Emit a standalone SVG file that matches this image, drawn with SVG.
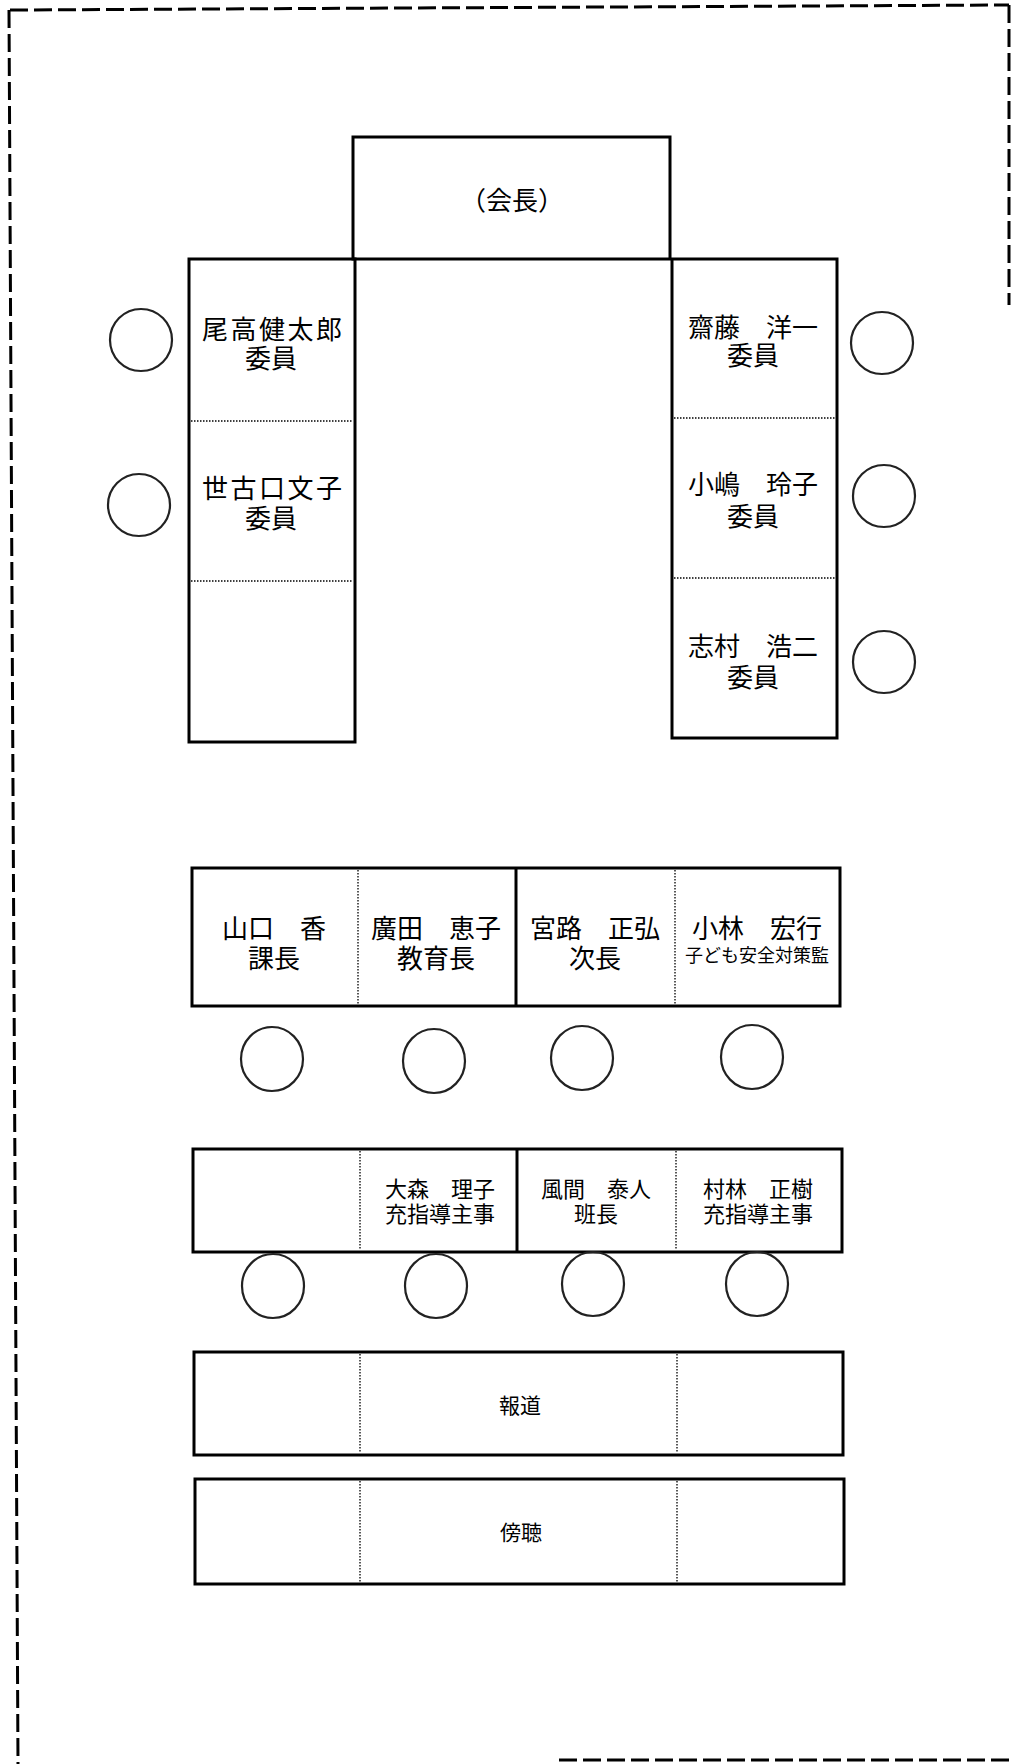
<svg xmlns="http://www.w3.org/2000/svg" width="1011" height="1764" viewBox="0 0 1011 1764">
<style>
.box{fill:none;stroke:#000;stroke-width:3;stroke-linejoin:miter}
.div{stroke:#000;stroke-width:1.3;stroke-dasharray:1.5 1.5;fill:none}
.seat{fill:none;stroke:#222;stroke-width:2.2}
.border{fill:none;stroke:#000;stroke-width:3;stroke-dasharray:18 6}
text{font-family:"Noto Sans CJK JP","Noto Sans CJK SC",sans-serif;fill:#000;text-anchor:middle;dominant-baseline:central}
.n{font-size:26px}
.m{font-size:22px}
.s{font-size:18px}
.l{font-size:21px}
</style>
<rect width="1011" height="1764" fill="#fff"/>
<g id="border">
<line class="border" x1="10" y1="10" x2="1009" y2="5"/>
<line class="border" x1="1009" y1="5" x2="1009" y2="305"/>
<line class="border" x1="9" y1="10" x2="18" y2="1764"/>
<line class="border" x1="559" y1="1760" x2="1011" y2="1760"/>
</g>
<g id="chair">
<rect class="box" x="353" y="137" width="317" height="122"/>
<text class="n" x="512" y="198">（会長）</text>
</g>
<g id="left-wing">
<rect class="box" x="189" y="259" width="166" height="483"/>
<line class="div" x1="191" y1="421" x2="353" y2="421"/>
<line class="div" x1="191" y1="581" x2="353" y2="581"/>
<text class="n"><tspan x="272" y="327" textLength="140" lengthAdjust="spacing">尾高健太郎</tspan><tspan x="271" y="356">委員</tspan></text>
<text class="n"><tspan x="272" y="486" textLength="140" lengthAdjust="spacing">世古口文子</tspan><tspan x="271" y="516">委員</tspan></text>
</g>
<g id="right-wing">
<rect class="box" x="672" y="259" width="165" height="479"/>
<line class="div" x1="674" y1="418" x2="835" y2="418"/>
<line class="div" x1="674" y1="578" x2="835" y2="578"/>
<text class="n"><tspan x="753" y="325">齋藤　洋一</tspan><tspan x="753" y="353">委員</tspan></text>
<text class="n"><tspan x="753" y="482">小嶋　玲子</tspan><tspan x="753" y="514">委員</tspan></text>
<text class="n"><tspan x="753" y="644">志村　浩二</tspan><tspan x="753" y="675">委員</tspan></text>
</g>
<g id="row1">
<rect class="box" x="192" y="868" width="648" height="138"/>
<line class="div" x1="358" y1="870" x2="358" y2="1004"/>
<line class="box" x1="516" y1="868" x2="516" y2="1006"/>
<line class="div" x1="675" y1="870" x2="675" y2="1004"/>
<text class="n"><tspan x="274" y="926">山口　香</tspan><tspan x="274" y="956">課長</tspan></text>
<text class="n"><tspan x="436" y="926">廣田　恵子</tspan><tspan x="436" y="956">教育長</tspan></text>
<text class="n"><tspan x="595" y="926">宮路　正弘</tspan><tspan x="595" y="956">次長</tspan></text>
<text class="n"><tspan x="757" y="926">小林　宏行</tspan><tspan class="s" x="757" y="954">子ども安全対策監</tspan></text>
</g>
<g id="row2">
<rect class="box" x="193" y="1149" width="649" height="103"/>
<line class="div" x1="360" y1="1151" x2="360" y2="1250"/>
<line class="box" x1="517" y1="1149" x2="517" y2="1252"/>
<line class="div" x1="676" y1="1151" x2="676" y2="1250"/>
<text class="m"><tspan x="440" y="1187">大森　理子</tspan><tspan x="440" y="1212">充指導主事</tspan></text>
<text class="m"><tspan x="596" y="1187">風間　泰人</tspan><tspan x="596" y="1212">班長</tspan></text>
<text class="m"><tspan x="758" y="1187">村林　正樹</tspan><tspan x="758" y="1212">充指導主事</tspan></text>
</g>
<g id="press">
<rect class="box" x="194" y="1352" width="649" height="103"/>
<line class="div" x1="360" y1="1354" x2="360" y2="1453"/>
<line class="div" x1="677" y1="1354" x2="677" y2="1453"/>
<text class="l" x="520" y="1404">報道</text>
</g>
<g id="audience">
<rect class="box" x="195" y="1479" width="649" height="105"/>
<line class="div" x1="360" y1="1481" x2="360" y2="1582"/>
<line class="div" x1="677" y1="1481" x2="677" y2="1582"/>
<text class="l" x="521" y="1531">傍聴</text>
</g>
<g id="seats">
<circle class="seat" cx="141" cy="340" r="31"/>
<circle class="seat" cx="139" cy="505" r="31"/>
<circle class="seat" cx="882" cy="343" r="31"/>
<circle class="seat" cx="884" cy="496" r="31"/>
<circle class="seat" cx="884" cy="662" r="31"/>
<ellipse class="seat" cx="272" cy="1059" rx="31" ry="32"/>
<ellipse class="seat" cx="434" cy="1061" rx="31" ry="32"/>
<ellipse class="seat" cx="582" cy="1058" rx="31" ry="32"/>
<ellipse class="seat" cx="752" cy="1057" rx="31" ry="32"/>
<ellipse class="seat" cx="273" cy="1286" rx="31" ry="32"/>
<ellipse class="seat" cx="436" cy="1286" rx="31" ry="32"/>
<ellipse class="seat" cx="593" cy="1284" rx="31" ry="32"/>
<ellipse class="seat" cx="757" cy="1284" rx="31" ry="32"/>
</g>
</svg>
